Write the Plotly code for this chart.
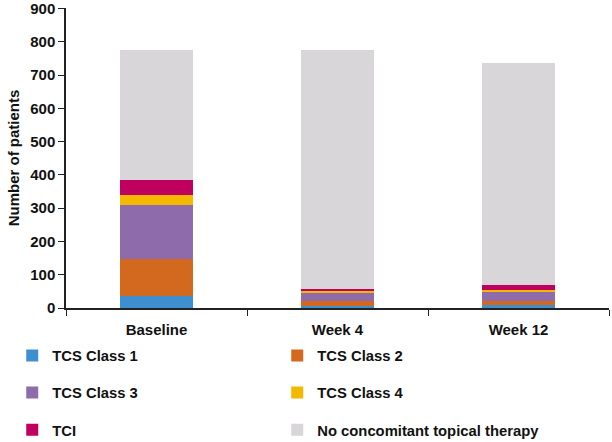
import plotly.graph_objects as go

categories = ["Baseline", "Week 4", "Week 12"]
tcs_class1 = [36, 6, 8]
tcs_class2 = [111, 14, 13]
tcs_class3 = [164, 26, 26]
tcs_class4 = [30, 4, 7]
tci = [43, 6, 15]
no_therapy = [391, 720, 668]
y_ticks = [0, 100, 200, 300, 400, 500, 600, 700, 800, 900]

series = [
    ("TCS Class 1", tcs_class1, "#3E8FCF", "legend"),
    ("TCS Class 2", tcs_class2, "#D2691E", "legend"),
    ("TCS Class 3", tcs_class3, "#8E6BAA", "legend2"),
    ("TCS Class 4", tcs_class4, "#F5B800", "legend2"),
    ("TCI", tci, "#C0005F", "legend3"),
    ("No concomitant topical therapy", no_therapy, "#D8D6D8", "legend3"),
]

fig = go.Figure()
for name, vals, color, lg in series:
    fig.add_trace(go.Bar(
        x=categories, y=vals, name=name, marker=dict(color=color, line=dict(width=0)),
        width=0.4, legend=lg,
    ))

font_family = "Arial, Liberation Sans, sans-serif"
leg_common = dict(
    orientation="h", xanchor="left", yanchor="middle", x=-0.099,
    font=dict(family=font_family, size=14.8, color="#111", weight="bold"),
    entrywidth=220, entrywidthmode="pixels", bgcolor="rgba(0,0,0,0)",
    traceorder="normal", borderwidth=0,
)
fig.update_layout(
    width=612, height=442,
    margin=dict(l=66, r=3, t=8, b=134, autoexpand=False),
    paper_bgcolor="white", plot_bgcolor="white",
    barmode="stack", bargap=0.6,
    font=dict(family=font_family, size=15, color="#111"),
    legend=dict(y=-0.16, **leg_common),
    legend2=dict(y=-0.283, **leg_common),
    legend3=dict(y=-0.407, **leg_common),
    xaxis=dict(
        type="category", tickson="boundaries", ticks="outside", ticklen=6,
        tickcolor="#222", showline=True, linecolor="#222", linewidth=1.5,
        tickfont=dict(family=font_family, size=15, color="#111", weight="bold"),
        showgrid=False, range=[-0.5, 2.5], ticklabelstandoff=7,
    ),
    yaxis=dict(
        range=[0, 902], tickvals=y_ticks, ticklabeloverflow="allow",
        ticks="outside", ticklen=6, tickcolor="#222",
        showline=True, linecolor="#222", linewidth=1.5, showgrid=False, zeroline=False,
        tickfont=dict(family=font_family, size=15, color="#111", weight="bold"),
        title=dict(text="Number of patients", standoff=7,
                   font=dict(family=font_family, size=15, color="#111", weight="bold")),
    ),
)

fig.write_html("out.html", config={"displayModeBar": False},
               post_script="document.body.style.margin='0';")
